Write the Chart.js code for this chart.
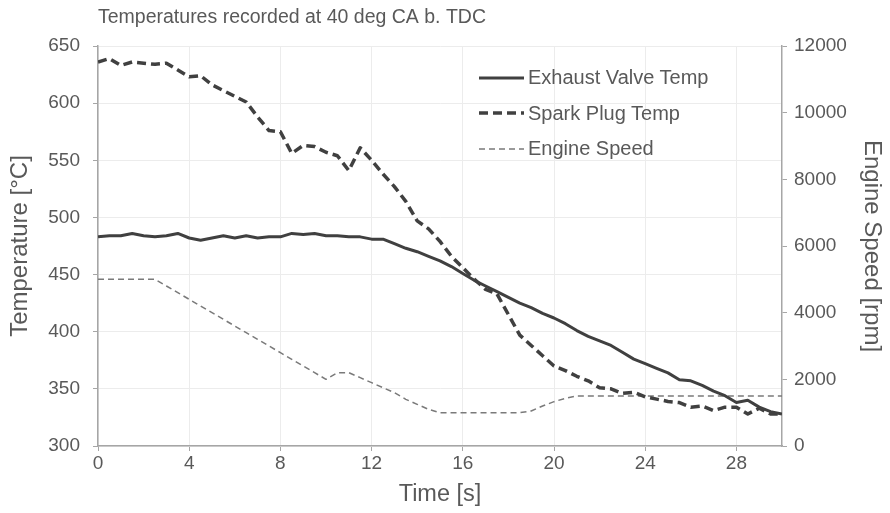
<!DOCTYPE html>
<html>
<head>
<meta charset="utf-8">
<script src="https://cdn.jsdelivr.net/npm/chart.js@4/dist/chart.umd.min.js"></script>
<style>
  html, body { margin: 0; padding: 0; background: #fff; }
  #wrap { position: relative; width: 890px; height: 513px; }
  #legend { position: absolute; left: 479px; top: 60px; font-family: 'Liberation Sans', Arial, sans-serif; font-size: 20px; color: #595959; }
  #legend .row { display: flex; align-items: center; height: 35.5px; }
  #legend svg { width: 45px; height: 10px; margin-right: 4px; }
</style>
</head>
<body>
<div id="wrap">
  <canvas id="chart" width="890" height="513"></canvas>
  <div id="legend"></div>
</div>
<script>
const times = [0, 0.5, 1, 1.5, 2, 2.5, 3, 3.5, 4, 4.5, 5, 5.5, 6, 6.5, 7, 7.5, 8, 8.5, 9, 9.5,
  10, 10.5, 11, 11.5, 12, 12.5, 13, 13.5, 14, 14.5, 15, 15.5, 16, 16.5, 17, 17.5, 18, 18.5, 19, 19.5,
  20, 20.5, 21, 21.5, 22, 22.5, 23, 23.5, 24, 24.5, 25, 25.5, 26, 26.5, 27, 27.5, 28, 28.5, 29, 29.5, 30];

const exhaustValveTemp = [483, 484, 484, 486, 484, 483, 484, 486, 482, 480, 482, 484, 482, 484, 482, 483, 483, 486, 485, 486,
  484, 484, 483, 483, 481, 481, 477, 473, 470, 466, 462, 457, 451, 445, 440, 435, 430, 425, 421, 416,
  412, 407, 401, 396, 392, 388, 382, 376, 372, 368, 364, 358, 357, 353, 348, 344, 338, 340, 334, 330, 328];

const sparkPlugTemp = [636, 639, 633, 636, 635, 634, 635, 629, 623, 624, 616, 611, 606, 601, 588, 576, 575, 556, 563, 562,
  557, 554, 541, 561, 550, 538, 527, 514, 497, 490, 479, 466, 456, 446, 437, 433, 415, 397, 388, 379,
  370, 366, 361, 357, 351, 350, 346, 347, 343, 341, 339, 338, 334, 335, 331, 334, 334, 328, 333, 328, 328];

const engineSpeed = [5000, 5000, 5000, 5000, 5000, 5000, 4800, 4600, 4400, 4200, 4000, 3800, 3600, 3400, 3200, 3000, 2800, 2600, 2400, 2200,
  2000, 2200, 2200, 2050, 1900, 1750, 1600, 1400, 1250, 1100, 1000, 1000, 1000, 1000, 1000, 1000, 1000, 1000, 1050, 1200,
  1330, 1430, 1500, 1500, 1500, 1500, 1500, 1500, 1500, 1500, 1500, 1500, 1500, 1500, 1500, 1500, 1500, 1500, 1500, 1500, 1500];

const seriesNames = ['Exhaust Valve Temp', 'Spark Plug Temp', 'Engine Speed'];

const font = "'Liberation Sans', Arial, sans-serif";
const textColor = '#595959';
const gridColor = '#ececec';
const axisColor = '#a6a6a6';

const pts = vals => vals.map((v, i) => ({ x: times[i], y: v }));

const datasets = [
  { label: seriesNames[0], data: pts(exhaustValveTemp), yAxisID: 'y', borderColor: '#404040', borderWidth: 3, borderDash: [] },
  { label: seriesNames[1], data: pts(sparkPlugTemp), yAxisID: 'y', borderColor: '#404040', borderWidth: 3.5, borderDash: [9, 5] },
  { label: seriesNames[2], data: pts(engineSpeed), yAxisID: 'y1', borderColor: '#7a7a7a', borderWidth: 1.5, borderDash: [6, 4] }
].map(d => Object.assign(d, { pointRadius: 0, tension: 0, fill: false, borderJoinStyle: 'round' }));

new Chart(document.getElementById('chart'), {
  type: 'line',
  data: { datasets },
  options: {
    responsive: false,
    animation: false,
    layout: { padding: 0 },
    plugins: {
      legend: { display: false },
      tooltip: { enabled: false },
      title: {
        display: true,
        text: 'Temperatures recorded at 40 deg CA b. TDC',
        align: 'start',
        fullSize: false,
        color: textColor,
        font: { family: font, size: 19.5, weight: 'normal' },
        padding: { top: 6, bottom: 16.6 }
      }
    },
    scales: {
      x: {
        type: 'linear',
        min: 0,
        max: 30,
        afterFit: s => { s.height = 67; },
        afterBuildTicks: s => { s.ticks = s.ticks.filter(t => t.value % 4 === 0); },
        ticks: { stepSize: 4, color: textColor, font: { family: font, size: 19 }, padding: 1, maxRotation: 0 },
        grid: { color: gridColor, tickLength: 5, tickColor: axisColor },
        border: { color: axisColor, width: 1.5 },
        title: { display: true, text: 'Time [s]', color: textColor, font: { family: font, size: 23.5 }, padding: { top: 0, bottom: 4 } }
      },
      y: {
        position: 'left',
        min: 300,
        max: 650,
        afterFit: s => { s.width = 98; },
        ticks: { stepSize: 50, color: textColor, font: { family: font, size: 19 }, padding: 13 },
        grid: { color: gridColor, tickLength: 5, tickColor: axisColor },
        border: { color: axisColor, width: 1.5 },
        title: { display: true, text: 'Temperature [°C]', color: textColor, font: { family: font, size: 24 }, padding: { top: 6, bottom: 0 } }
      },
      y1: {
        position: 'right',
        min: 0,
        max: 12000,
        afterFit: s => { s.width = 108; },
        ticks: { stepSize: 2000, color: textColor, font: { family: font, size: 19 }, padding: 7, callback: v => String(v) },
        grid: { drawOnChartArea: false, tickLength: 5, tickColor: axisColor },
        border: { color: axisColor, width: 1.5 },
        title: { display: true, text: 'Engine Speed [rpm]', color: textColor, font: { family: font, size: 24 }, padding: { top: 4, bottom: 0 } }
      }
    }
  }
});

// legend inside the plot, built from the datasets
const legend = document.getElementById('legend');
datasets.forEach(d => {
  const row = document.createElement('div');
  row.className = 'row';
  row.innerHTML = '<svg viewBox="0 0 45 10"><line x1="0" y1="5" x2="45" y2="5" stroke="' + d.borderColor +
    '" stroke-width="' + d.borderWidth + '" stroke-dasharray="' + (d.borderDash.join(' ') || 'none') + '"/></svg>' +
    '<span>' + d.label + '</span>';
  legend.appendChild(row);
});
</script>
</body>
</html>
